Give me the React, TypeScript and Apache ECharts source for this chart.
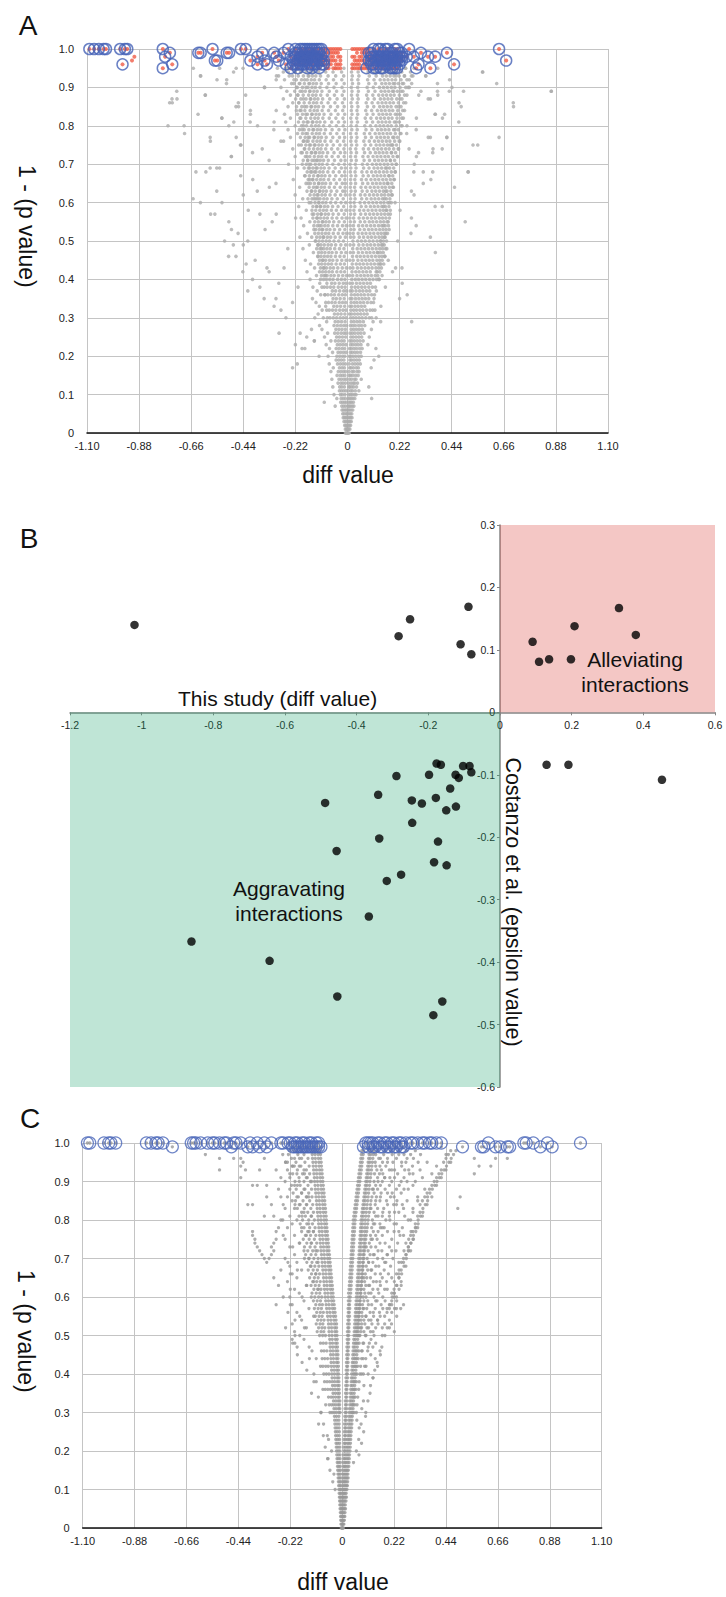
import React, { useEffect, useRef } from "react";
import * as echarts from "echarts";

const FONT = "'Liberation Sans', Arial, Helvetica, sans-serif";

// ---------- tick labels ----------
const xTicksAC = ["-1.10", "-0.88", "-0.66", "-0.44", "-0.22", "0", "0.22", "0.44", "0.66", "0.88", "1.10"];
const yTicksAC = ["0", "0.1", "0.2", "0.3", "0.4", "0.5", "0.6", "0.7", "0.8", "0.9", "1.0"];
const xTicksB = ["-1.2", "-1", "-0.8", "-0.6", "-0.4", "-0.2", "0", "0.2", "0.4", "0.6"];
const yTicksB = ["-0.6", "-0.5", "-0.4", "-0.3", "-0.2", "-0.1", "0", "0.1", "0.2", "0.3"];

// ---------- Panel A ----------
// rows: [ (1-p) in hundredths, diff in thousandths, ... ]
const grayRowsA = [
  [0, -6, -2, 3, 7, -9, 1], [1, -9, -4, 1, 5, 10, -1], [2, -12, -7, -2, 3, 8, 13], [3, -15, -9, -4, 2, 6, 11, 16],
  [4, -13, -8, -3, 4, 9, 14, 19, -18], [5, -20, -14, -6, -1, 5, 12, 18], [6, -17, -10, -4, 3, 8, 15, 22, -23],
  [7, -24, -16, -8, 2, 7, 13, 20, 27, -52], [8, -21, -13, -6, 4, 11, 17, 25, -29, -98], [9, -27, -18, -9, 3, 9, 16, 23, 31, 102, -45],
  [10, -30, -22, -11, 5, 12, 19, 28, 36, -57], [11, -25, -16, -7, 4, 14, 21, 33, -34, 48], [12, -33, -24, -13, 6, 10, 18, 26, 38, -62],
  [13, -28, -19, -9, 5, 15, 24, 31, 42, -40], [14, -36, -26, -15, -6, 8, 17, 29, 36, -66, 58], [15, -31, -21, -11, 7, 13, 22, 34, 45, -44],
  [16, -39, -28, -17, -8, 6, 19, 27, 40, 49, -70], [17, -34, -23, -13, 9, 15, 25, 37, 46, -232, -60], [18, -42, -30, -19, -9, 7, 21, 32, 43, 54, -212, -77],
  [19, -37, -26, -15, 10, 17, 28, 39, 50, -48, 112], [20, -45, -33, -21, -11, 8, 14, 24, 35, 47, 58, -82, 132], [21, -40, -29, -17, -6, 12, 20, 31, 42, 55, -63],
  [22, -48, -36, -23, -12, 9, 16, 27, 38, 51, 62, -192, -76], [23, -43, -31, -19, -7, 13, 22, 34, 45, 57, -90, 86],
  [24, -51, -38, -25, -14, 10, 18, 29, 41, 53, 66, -70, -140], [25, -46, -34, -21, -8, 14, 24, 36, 48, 60, -172, -97, 92],
  [26, -54, -41, -27, -15, -6, 11, 20, 31, 44, 56, 70, -289, -84], [27, -49, -36, -23, -9, 15, 26, 38, 50, 63, -152, -108, 101],
  [28, -57, -43, -29, -16, -5, 12, 22, 33, 47, 59, 73, -118], [29, -52, -39, -25, -10, 16, 28, 41, 53, 67, 271, -88, 108],
  [30, -60, -46, -31, -18, -6, 13, 24, 36, 49, 62, 77, -138, -102, 121], [31, -55, -41, -27, -11, 9, 17, 30, 43, 56, 70, 83, -124],
  [32, -63, -49, -33, -19, -7, 14, 26, 38, 52, 65, 80, -281, -107, 116], [33, -58, -44, -29, -12, 10, 18, 32, 45, 59, 73, -119, 141, -92],
  [34, -66, -52, -35, -21, -8, 15, 28, 40, 54, 68, 84, -232, -133], [35, -61, -47, -31, -14, 11, 19, 34, 48, 62, 76, 90, -352, -302, -148, 112],
  [36, -69, -55, -37, -22, -9, 16, 30, 43, 57, 71, 87, -113, 252, -96], [37, -64, -50, -33, -16, -5, 12, 20, 36, 51, 65, 80, 94, -421, -128, 122],
  [38, -72, -58, -39, -24, -10, 17, 32, 45, 60, 74, 90, -209, -146, -108], [39, -67, -53, -35, -18, -6, 10, 21, 38, 53, 68, 83, 97, -117, 231, -87],
  [40, -75, -61, -42, -26, -11, 18, 33, 47, 62, 77, 93, 108, -401, -158, 133], [41, -70, -56, -38, -20, -4, 9, 22, 40, 56, 71, 86, 101, -131, 146, -93],
  [42, -78, -64, -45, -28, -12, 19, 35, 49, 65, 80, 96, -442, -331, -171, 121], [43, -73, -59, -41, -22, -5, 11, 23, 42, 58, 74, 89, 104, -268, 203, -139, -99],
  [44, -81, -67, -48, -30, -13, 20, 37, 52, 67, 83, 99, 114, -428, -156, 137], [45, -76, -62, -44, -24, -6, 10, 24, 44, 61, 77, 92, 107, 172, -178, -104],
  [46, -84, -70, -51, -32, -14, 21, 39, 54, 70, 86, 102, 118, -471, -502, -124, 158], [47, -79, -65, -47, -26, -7, 12, 25, 46, 63, 80, 95, 111, 371, -144, 127],
  [48, -87, -73, -54, -34, -15, 22, 41, 57, 73, 89, 105, 121, -252, -188, -110, 166], [49, -82, -68, -50, -28, -8, 11, 26, 48, 66, 83, 98, 114, -482, -123, 148, -161],
  [50, -90, -76, -57, -37, -17, 23, 43, 59, 75, 92, 108, 125, -519, -421, 212, -136, 141], [51, -85, -71, -52, -31, -9, 13, 27, 50, 68, 86, 101, 117, -201, -151, 156, -102],
  [52, -93, -79, -60, -39, -19, -4, 10, 24, 45, 62, 78, 95, 111, 128, -462, 268, -169, 162], [53, -88, -74, -55, -33, -11, 14, 28, 52, 71, 89, 104, 120, -348, -142, 176, -107],
  [54, -96, -82, -62, -42, -21, -5, 11, 25, 47, 64, 81, 98, 114, 131, 152, -185, -118], [55, -91, -77, -58, -36, -13, 12, 29, 54, 73, 92, 107, 123, -501, -318, 497, -159, 172, -104],
  [56, -99, -85, -65, -45, -23, -6, 10, 26, 49, 67, 84, 101, 117, 134, -219, -127, -196], [57, -94, -80, -61, -38, -14, 13, 30, 56, 76, 94, 110, 126, -578, -301, -149, 181, -112],
  [58, -102, -88, -68, -47, -25, -7, 11, 27, 51, 69, 87, 104, 120, 137, 222, -419, -174, 163], [59, -97, -83, -63, -40, -16, 14, 31, 58, 78, 97, 113, 129, -131, -206, 152, -115],
  [60, -105, -91, -71, -50, -27, -8, 12, 28, 53, 72, 90, 107, 123, 140, 201, -621, -162, 177, -121], [61, -100, -86, -66, -43, -18, 13, 32, 60, 81, 100, 116, 132, -652, -141, -189, 156, -125],
  [62, -108, -94, -74, -52, -29, -9, 11, 29, 55, 74, 93, 110, 126, 143, 281, -221, -128, 186], [63, -103, -89, -69, -45, -20, -10, 15, 33, 62, 83, 103, 119, 135, -552, -381, -151, 161, -117],
  [64, -111, -97, -77, -55, -31, -10, 12, 30, 57, 77, 96, 113, 129, 146, 452, -202, -132, 191], [65, -106, -92, -72, -47, -22, -9, 14, 34, 64, 86, 106, 122, 138, -302, -166, 169, -121],
  [66, -114, -100, -80, -57, -33, -11, 13, 31, 59, 79, 99, 116, 132, 149, 352, -229, -146, 196, -160], [67, -109, -95, -75, -50, -24, -10, 15, 35, 66, 88, 109, 125, 141, -451, -181, 176, -124],
  [68, -117, -103, -83, -60, -35, -12, 12, 32, 61, 82, 102, 119, 135, 152, 509, -598, -156, 201, -139], [69, -112, -98, -78, -52, -26, -9, 14, 36, 68, 91, 112, 128, 144, -552, -211, 166, -133, -160],
  [70, -120, -106, -86, -62, -37, -13, 11, 33, 63, 84, 105, 122, 138, 155, 282, -249, -191, 206, -162], [71, -115, -101, -81, -55, -28, -10, 16, 37, 70, 93, 115, 131, 147, -331, -141, 181, -127, -168],
  [72, -123, -109, -89, -65, -39, -14, 13, 34, 65, 87, 108, 125, 141, 158, 291, -491, -221, 211, -171], [73, -118, -104, -84, -57, -30, -11, 15, 38, 72, 96, 118, 134, 150, -401, -151, 186, -196, -136],
  [74, -126, -112, -92, -67, -41, -15, 12, 35, 67, 89, 111, 128, 144, 161, 361, -181, 216, -231], [75, -121, -107, -87, -60, -32, -10, 17, 39, 74, 98, 121, 137, 153, -452, -161, 191, -206, 181, -140],
  [76, -129, -115, -95, -70, -43, -16, 14, 36, 69, 92, 114, 131, 147, 164, -579, -281, -186, 221, -172], [77, -124, -110, -90, -62, -34, -12, 16, 40, 76, 101, 124, 140, 156, 341, 419, -241, -166, 196, -141],
  [78, -132, -118, -98, -72, -45, -17, 13, 37, 71, 94, 117, 134, 150, 167, -688, -211, 226, -176], [79, -127, -113, -93, -65, -36, -11, 18, 41, 78, 103, 127, 143, 159, -311, -191, 201, -251, -146],
  [80, -135, -121, -101, -75, -47, -18, 15, 38, 73, 97, 120, 137, 153, 170, -758, -501, 251, -221, 231, -186], [81, -130, -116, -96, -67, -38, -13, 17, 42, 80, 106, 130, 146, 162, -411, -171, 206, -261, -149],
  [82, -138, -124, -104, -77, -49, -19, 14, 39, 75, 99, 123, 140, 156, 173, -531, 401, 291, -201, 236, -241], [83, -133, -119, -99, -70, -40, -12, 19, 43, 82, 108, 133, 149, 165, -631, 371, -176, 211, -266, -151],
  [84, -141, -127, -107, -80, -51, -20, 16, 40, 77, 102, 126, 143, 159, 176, -301, -216, 241, -196], [85, -136, -122, -102, -72, -42, -14, 18, 44, 84, 111, 136, 152, 168, -471, 701, -251, 216, -181, -154],
  [86, -144, -130, -110, -82, -53, -21, 15, 41, 79, 104, 129, 146, 162, 179, -751, -461, 471, -231, 246, -206], [87, -139, -125, -105, -75, -44, -13, 20, 45, 86, 113, 139, 155, 171, -741, 341, -271, 221, -186, -157],
  [88, -147, -133, -113, -85, -55, -22, 17, 42, 81, 107, 132, 149, 165, 182, -601, 301, 381, -211, 251, -241], [89, -142, -128, -108, -77, -46, -15, 19, 46, 88, 116, 142, 158, 174, -721, 861, -256, 226, -191, -160, 195],
  [90, -150, -136, -116, -87, -57, -23, 16, 43, 83, 109, 135, 152, 168, 185, -351, 261, 441, -216, 256, -281, -175], [91, -145, -131, -111, -80, -48, -14, 21, 47, 90, 118, 145, 161, 177, -511, -236, 231, -201, 271, -163, 200],
  [92, -153, -139, -119, -90, -59, -24, 18, 44, 85, 112, 138, 155, 171, 188, -551, -301, 431, -266, 261, -226, -181], [93, -148, -134, -114, -82, -50, -16, 20, 48, 92, 121, 148, 164, 180, -621, 331, -246, 241, -291, 276, -166, 205],
  [94, -156, -142, -122, -92, -61, -25, 17, 45, 87, 114, 141, 158, 174, 191, -481, 571, -221, 266, -271, -196], [95, -151, -137, -117, -85, -52, -15, 22, 49, 94, 123, 151, 167, 183, -651, -441, 381, -251, 281, -296, 246, -171, 210],
];
// outer belt of the dense core (same units)
const edgeRowsA = [
  [95, -168, -189, -212, -236, 198, 221, 244, -262], [94, -175, -198, -221, 205, 229, -250], [93, -163, -186, -208, -232, 196, 218, 240],
  [92, -170, -194, -216, 203, 226, 251], [91, -160, -182, -204, -226, 193, 215, 237], [90, -167, -190, -212, 200, 222, 246],
  [89, -158, -178, -200, -223, 190, 211, 234], [88, -164, -187, -209, 197, 219, 241], [87, -155, -175, -197, -219, 187, 208, 230],
  [86, -161, -183, -205, 194, 215, 237], [85, -152, -172, -193, -215, 184, 205, 226], [84, -158, -180, -201, 191, 212, 233],
  [83, -149, -169, -190, -211, 181, 202, 223], [82, -155, -176, -197, 188, 209, 229], [81, -146, -166, -186, -207, 178, 198, 219],
  [80, -152, -173, -194, 185, 206, 226], [79, -143, -163, -183, -203, 175, 195, 215], [78, -149, -169, -190, 182, 202, 222],
  [77, -140, -160, -179, -199, 172, 191, 211], [76, -146, -166, -186, 179, 199, 218], [75, -137, -156, -176, -195, 169, 188, 207],
  [74, -143, -162, -182, 176, 195, 214], [73, -134, -153, -172, -191, 166, 185, 203], [72, -140, -159, -178, 173, 192, 210],
  [71, -131, -150, -168, -187, 163, 181, 199], [70, -136, -155, -174, 170, 188, 206], [69, -128, -146, -165, -183, 160, 178, 195],
  [68, -133, -151, -170, 167, 185, 202], [67, -125, -143, -161, -179, 157, 174, 191], [66, -130, -148, -166, 164, 181, 198],
  [65, -122, -140, -157, -175, 154, 171, 187], [64, -127, -144, -162, 160, 177, 194], [63, -119, -136, -153, -171, 151, 167, 183],
  [62, -124, -141, -158, 157, 173, 189], [61, -116, -133, -150, -167, 148, 164, 179], [60, -121, -137, -154, 154, 170, 185],
  [59, -113, -129, -146, 145, 160, 175], [58, -117, -134, -150, 151, 166, 181], [57, -110, -126, -142, 142, 157, 171],
  [56, -114, -130, -146, 148, 162, 177], [55, -107, -123, -138, 139, 153, 167], [54, -111, -127, -142, 145, 159, 173],
  [53, -104, -119, -134, 136, 150, 163], [52, -108, -123, -138, 142, 155, 169], [51, -101, -116, -130, 133, 146, 159],
  [50, -105, -120, -134, 139, 152, 165], [49, -98, -112, -126, 130, 143, 155], [48, -101, -116, -130, 136, 148, 161],
  [47, -95, -109, -122, 127, 139, 151], [46, -98, -112, -126, 133, 145, 157], [45, -92, -105, -118, 124, 136, 147],
  [44, -95, -109, -122, 129, 141, 153], [43, -89, -102, -114, 120, 132, 143], [42, -92, -105, -118, 126, 137],
  [41, -86, -98, -110, 117, 128], [40, -89, -101, -114, 123, 134], [38, -86, -98, 105, 118], [36, -83, -95, 102, 114],
  [34, -80, -92, 99, 110], [32, -77, -88, 95, 106], [30, -74, -85, 92, 102],
];
// pairs in hundredths: diff, (1-p)
const grayOutA = [
  -64, 68, -58, 69, -54, 69, -58, 77, -69, 80, -47, 77, -49, 72, -45, 75, -74, 86, -72, 87, -60, 88, -53, 82, -48, 81, -41, 83, -31, 81,
  -27, 76, -62, 93, -54, 95, -47, 95, -51, 92, -30, 93, -35, 90, -41, 84, -43, 88, -46, 85, -38, 80, -36, 74, -33, 64, -40, 66, -44, 62,
  -37, 57, -53, 60, -56, 57, -49, 53, -44, 49, -39, 45, -34, 43, -29, 39, -37, 38, -31, 33, -26, 30, -20, 26, -22, 23, -18, 22, -14, 24, -12, 20,
  57, 94, 63, 91, 86, 89, 70, 86, 64, 77, 53, 75, 55, 75, 51, 68, 48, 85, 47, 81, 49, 89, 42, 77, 35, 77, 41, 83, 37, 83, 31, 89, 38, 89,
  43, 89, 35, 87, 33, 93, 27, 93, 38, 91, 29, 79, 25, 78, 26, 74, 30, 73, 36, 73, 40, 74, 28, 68, 32, 68, 36, 68, 32, 65, 27, 63, 37, 59,
  40, 59, 27, 56, 29, 54, 35, 51, 23, 43, 19, 42, 16, 38, 22, 35, 14, 29, 12, 22, 10, 17, 9, 12,
];
const blueA = [
  -109, 100, -107, 100, -105, 100, -103, 100, -102, 100, -96, 100, -94, 100, -93, 100, -95, 96,
  -78, 100, -75, 99, -77, 98, -74, 96, -78, 95,
  -63, 99, -62, 99, -57, 100, -56, 97, -55, 97, -51, 99, -50, 99, -45, 100, -43, 100, -41, 97, -38, 98, -38, 96, -36, 99, -35, 97, -34, 96,
  -31, 99, -30, 98, -29, 97, -27, 99, -26, 96, -25, 100, -24, 98, -23, 96,
  -22, 99, -21, 97, -20, 100, -20, 96, -19, 98, -18, 100, -18, 96, -17, 98, -16, 99, -16, 96, -15, 97, -14, 100, -14, 98, -13, 96, -13, 99,
  -12, 97, -12, 100, -11, 98, -11, 96, -10, 99, -21, 95, -17, 95, -15, 100, -19, 96, -22, 96, -17, 100, -15, 95, -13, 100, -11, 100, -20, 98,
  -24, 95, -19, 100, -16, 98, -14, 96, -12, 95, -18, 97, -22, 98,
  -23, 97, -22, 100, -21, 99, -20, 97, -19, 99, -18, 98, -17, 97, -16, 100, -15, 98, -14, 97, -13, 98, -12, 99, -11, 97, -10, 97, -10, 96,
  -21, 96, -19, 97, -17, 99, -15, 96, -13, 97,
  9, 99, 10, 97, 11, 100, 11, 96, 12, 98, 13, 100, 13, 96, 14, 98, 15, 99, 15, 96, 16, 97, 17, 100, 17, 98, 18, 96, 19, 99, 19, 97, 20, 100,
  20, 96, 21, 98, 22, 99, 22, 96, 23, 97, 12, 95, 18, 95, 14, 95, 16, 100, 10, 99, 21, 95, 23, 99, 15, 98, 13, 98, 17, 96, 19, 95, 21, 100,
  9, 97, 10, 98, 11, 98, 12, 97, 13, 97, 14, 100, 14, 97, 15, 97, 16, 98, 16, 96, 17, 97, 18, 99, 18, 98, 19, 98, 20, 98, 20, 97, 21, 97,
  22, 98, 22, 97, 23, 98, 11, 95, 15, 95, 20, 95, 10, 96,
  8, 95, 25, 98, 26, 100, 28, 98, 29, 95, 30, 96, 31, 99, 34, 98, 35, 95, 37, 98, 42, 99, 45, 96, 64, 100, 67, 97,
];
const redOnlyA = [
  -10, 100, -9, 98, -8, 99, -7, 100, -6, 97, -5, 99, -4, 98, -3, 100, -10, 96, -9, 95, -8, 97, -7, 96, -6, 100, -5, 95, -4, 96, -3, 97,
  -9, 100, -8, 96, -7, 98, -6, 95, -5, 97, -4, 100, -3, 95, -10, 98, -8, 95, -7, 99, -6, 98, -5, 100, -4, 95, -3, 98, -9, 97, -5, 96,
  -4, 99, -8, 100, -3, 96, -10, 97, -6, 99, -9, 99, -7, 97,
  2, 100, 3, 98, 4, 99, 5, 100, 6, 97, 7, 99, 8, 98, 9, 100, 2, 96, 3, 95, 4, 97, 5, 96, 6, 100, 7, 95, 8, 96, 9, 97, 2, 98, 3, 100,
  4, 95, 5, 98, 6, 95, 7, 97, 8, 100, 9, 95, 3, 97, 4, 100, 5, 95, 6, 99, 7, 100, 8, 99, 2, 95, 3, 96, 6, 98, 9, 98, 4, 96, 5, 97, 7, 96,
  -90, 98, -91, 97,
];

// ---------- Panel B ----------
const diffB = [
  -1.02, -0.283, -0.251, -0.088, -0.11, -0.08, 0.091, 0.109, 0.137, 0.198, 0.208, 0.332, 0.379,
  0.13, 0.191, 0.452,
  -0.177, -0.165, -0.103, -0.085, -0.08, -0.124, -0.115, -0.198, -0.289, -0.139, -0.34, -0.246, -0.218, -0.179, -0.15, -0.123,
  -0.488, -0.245, -0.337, -0.173, -0.456, -0.184, -0.149, -0.276, -0.316, -0.366, -0.861, -0.643, -0.454, -0.161, -0.186,
];
const epsilonB = [
  0.14, 0.122, 0.149, 0.169, 0.109, 0.093, 0.113, 0.081, 0.085, 0.085, 0.138, 0.167, 0.124,
  -0.084, -0.084, -0.108,
  -0.082, -0.084, -0.086, -0.086, -0.096, -0.1, -0.105, -0.1, -0.102, -0.122, -0.132, -0.141, -0.146, -0.137, -0.157, -0.151,
  -0.145, -0.177, -0.202, -0.207, -0.222, -0.24, -0.245, -0.26, -0.27, -0.327, -0.367, -0.398, -0.455, -0.463, -0.485,
];

// ---------- Panel C ----------
// rows: [ (1-p) in hundredths, diff in thousandths, ... ]
const grayRowsC = [
  [0, -4, -1, 2, 5], [1, -5, -2, 1, 4, 7], [2, -6, -3, 2, 6, 9], [3, -7, -3, 1, 4, 8, 11], [4, -8, -4, -1, 3, 7, 12],
  [5, -9, -5, -2, 2, 6, 10, 14], [6, -10, -6, -2, 4, 8, 13], [7, -11, -7, -3, 3, 7, 11, 16], [8, -12, -8, -4, 2, 5, 9, 14, 18],
  [9, -13, -8, -4, 4, 8, 12, 17], [10, -14, -9, -5, 3, 7, 11, 15, 20, -30], [11, -15, -10, -5, 4, 9, 14, 19, 22], [12, -16, -11, -6, 3, 8, 12, 17, 23, -40],
  [13, -17, -12, -6, 5, 10, 15, 20, 25], [14, -18, -13, -7, 4, 9, 14, 19, 24, -35], [15, -19, -13, -7, 5, 11, 16, 21, 26, -52],
  [16, -20, -14, -8, 6, 10, 15, 22, 28], [17, -21, -15, -8, 5, 12, 17, 23, 29, 48], [18, -22, -16, -9, 7, 11, 18, 24, 30, -62],
  [19, -23, -16, -9, 6, 13, 19, 25, 31, 71], [20, -24, -17, -10, 8, 12, 20, 26, 33, -45], [21, -25, -18, -10, 7, 14, 21, 27, 34, -72],
  [22, -26, -19, -11, 9, 13, 22, 28, 35, 82], [23, -27, -19, -11, 8, 15, 23, 29, 36, -58], [24, -28, -20, -12, 10, 14, 24, 30, 37, -63],
  [25, -29, -21, -12, 9, 16, 25, 31, 38, 91], [26, -30, -22, -13, 11, 15, 26, 33, 40, 72], [27, -31, -22, -13, 10, 17, 27, 34, 41, -79],
  [28, -32, -23, -14, 12, 16, 28, 35, 42, 62], [29, -33, -24, -14, 11, 18, 29, 36, 43, 99], [30, -34, -25, -15, -9, 13, 17, 30, 37, 45, -90],
  [31, -35, -26, -16, -10, 12, 19, 31, 38, 46, 83], [32, -36, -27, -17, -11, 14, 18, 32, 39, 47, -70], [33, -37, -27, -17, -10, 13, 20, 33, 40, 48, 109],
  [34, -38, -28, -18, -12, 15, 19, 34, 41, 50, -101], [35, -39, -29, -19, -12, 14, 21, 35, 42, 51, 118], [36, -40, -30, -20, -13, 16, 20, 36, 43, 52, -82],
  [37, -41, -31, -20, -13, 15, 22, 37, 44, 53, 92], [38, -42, -32, -21, -14, 17, 21, 38, 45, 54, -110], [39, -43, -32, -21, -14, 16, 23, 39, 46, 55, 131],
  [40, -44, -33, -22, -15, 18, 22, 40, 47, 57, -120, 82], [41, -45, -34, -23, -16, 17, 24, 41, 48, 58, 138], [42, -46, -35, -24, -16, 19, 23, 42, 49, 59, -92, 101],
  [43, -47, -36, -24, -17, 18, 25, 43, 50, 60, 148], [44, -48, -37, -25, -18, 20, 24, 44, 51, 61, -139, 89], [45, -49, -38, -26, -18, 19, 26, 45, 52, 62, 121, 162],
  [46, -50, -39, -27, -19, 21, 25, 46, 53, 63, -128, 82], [47, -51, -40, -28, -20, 20, 27, 47, 54, 64, 110, 168, -191], [48, -52, -41, -28, -21, 22, 26, 48, 55, 65, 91, 142, -201],
  [49, -53, -42, -29, -21, 21, 28, 49, 56, 66, 122, -162, -212], [50, -55, -43, -30, -22, 23, 27, 50, 57, 67, 72, 101, 181, -180],
  [51, -56, -44, -31, -23, 22, 29, 51, 58, 68, 131, -202, 221], [52, -57, -45, -32, -24, 24, 28, 52, 59, 69, 82, 112, 191, -152],
  [53, -58, -46, -33, -24, 23, 30, 53, 60, 70, 152, -212, 209], [54, -60, -48, -35, -26, 25, 29, 54, 61, 71, 92, 122, 200, -172],
  [55, -62, -50, -37, -28, 24, 31, 55, 62, 72, 101, 161, 231, -121], [56, -64, -52, -39, -30, 26, 30, 56, 63, 73, 132, 210, -192],
  [57, -66, -54, -41, -32, 25, 32, 57, 64, 74, 91, 172, 222, -141, 248], [58, -68, -56, -43, -34, 27, 31, 58, 65, 75, 111, 202, -212],
  [59, -70, -58, -45, -36, 26, 33, 59, 66, 76, 142, 182, -162, 231], [60, -72, -60, -47, -38, 28, 34, 60, 67, 78, 101, 212, -131, -222],
  [61, -73, -61, -48, -39, 27, 36, 61, 68, 79, 122, 221, -182], [62, -75, -63, -50, -41, 29, 37, 62, 69, 80, 151, 191, -101, -202, 241],
  [63, -76, -64, -51, -42, 30, 38, 63, 70, 81, 112, 232, -152], [64, -78, -66, -53, -44, 31, 39, 64, 71, 82, 132, 221, -232, -121],
  [65, -79, -67, -54, -45, 32, 40, 65, 72, 83, 92, 241, -192], [66, -81, -69, -56, -47, 33, 41, 66, 73, 84, 162, 252, -112, -212],
  [67, -82, -70, -57, -48, 34, 42, 67, 74, 85, 122, 241, -172], [68, -84, -72, -59, -50, 35, 43, 68, 75, 86, 142, 262, -222, -132],
  [69, -85, -73, -60, -51, 36, 44, 69, 76, 87, 112, 251, -102, -192], [70, -87, -75, -62, -53, 37, 45, 70, 77, 88, 172, 272, -142, -242],
  [71, -88, -76, -63, -54, 38, 46, 71, 78, 89, 132, 271, -202], [72, -90, -78, -65, -56, 39, 47, 72, 79, 90, 152, 262, 282, -162, -112],
  [73, -91, -79, -66, -57, 40, 48, 73, 80, 91, 102, 281, -222], [74, -93, -81, -68, -59, 41, 49, 74, 81, 92, 182, 292, -132, -182],
  [75, -94, -82, -69, -60, 42, 50, 75, 82, 93, 122, 282, 302, -242], [76, -96, -84, -71, -62, 43, 51, 76, 83, 94, 142, 302, -152, -202],
  [77, -97, -85, -72, -63, 44, 52, 77, 84, 95, 192, 292, 312, -122], [78, -99, -87, -74, -65, 45, 53, 78, 85, 96, 162, 312, -172, -232],
  [79, -100, -88, -75, -66, 46, 54, 79, 86, 97, 132, 322, -212, -142], [80, -102, -90, -77, -67, 47, 55, 80, 87, 98, 202, 322, -192, -252],
  [81, -103, -91, -78, -68, 49, 57, 82, 89, 100, 152, 332, -132, -222], [82, -105, -93, -80, -70, 51, 59, 84, 91, 102, 172, 222, 342, -162],
  [83, -106, -94, -81, -71, 53, 61, 86, 93, 104, 122, 342, -202, -242], [84, -108, -96, -83, -73, 55, 63, 88, 95, 106, 192, 352, -152, -182],
  [85, -109, -97, -84, -74, 57, 65, 90, 97, 108, 142, 232, 362, -212], [86, -111, -99, -86, -76, 59, 67, 92, 99, 110, 162, 362, -142, -232, -192],
  [87, -112, -100, -87, -77, 61, 69, 94, 101, 112, 212, 372, -172], [88, -114, -102, -89, -79, 63, 71, 96, 103, 114, 132, 182, 382, -222, -162],
  [89, -115, -103, -90, -80, 65, 73, 98, 105, 116, 242, 392, -202], [90, -117, -105, -92, -82, 67, 75, 100, 107, 118, 152, 402, -182, -242],
  [91, -118, -106, -93, -83, 69, 77, 102, 109, 120, 202, 262, 412, -152], [92, -120, -108, -95, -85, 71, 79, 104, 111, 122, 172, 422, -222, -192],
  [93, -121, -109, -96, -86, 73, 81, 106, 113, 124, 222, 282, 432, -162], [94, -123, -111, -98, -88, 75, 83, 108, 115, 126, 142, 442, -212, -182],
  [95, -124, -112, -99, -89, 77, 85, 110, 117, 128, 192, 252, 452, -232], [96, -126, -114, -101, -91, 79, 87, 112, 119, 130, 162, 302, 462, -172, -202],
  [97, -127, -115, -102, -92, 81, 89, 114, 121, 132, 212, 332, 472, -252], [98, -129, -117, -104, -94, 83, 91, 116, 123, 134, 182, 272, 482, -192, -222],
];
// scatter beside the two arms (same units)
const scatterRowsC = [
  [98, -150, -172, -205, 150, 205, 240, 310], [97, -162, -188, -228, 142, 176, 262, 290], [96, -145, -181, -215, 155, 192, 230, 275],
  [95, -158, -196, -240, 140, 171, 215, 322], [94, -140, -175, -203, 160, 185, 252, 298], [93, -152, -190, -232, 147, 166, 200, 265],
  [92, -138, -168, -210, 137, 158, 235, 285], [91, -148, -183, -222, 150, 180, 222, 340], [90, -135, -162, -200, 135, 170, 210, 275],
  [89, -145, -178, -215, 142, 162, 200, 300], [88, -130, -158, -195, 128, 150, 230, 262], [87, -142, -172, -208, 135, 165, 192, 250],
  [86, -128, -152, -186, 126, 145, 205, 320], [85, -138, -166, -198, 122, 160, 188, 275], [84, -125, -150, -178, 120, 140, 218, 255],
  [83, -133, -161, -190, 118, 150, 176, 300], [82, -122, -146, -172, 115, 135, 200, 240], [81, -130, -156, -183, 112, 142, 170, 265],
  [80, -118, -142, -168, 110, 128, 185, 280], [79, -126, -150, -178, 108, 138, 160, 230], [78, -115, -138, -162, 106, 125, 178, 255],
  [77, -122, -146, -172, 104, 132, 152, 220], [76, -112, -134, -156, 102, 120, 170, 245], [75, -118, -140, -165, 100, 128, 148, 210],
  [74, -108, -130, -150, 98, 115, 160, 235], [73, -115, -136, -160, 96, 122, 142, 200], [72, -105, -125, -146, 95, 110, 168, 228],
  [71, -112, -132, -155, 93, 118, 136, 192], [70, -102, -120, -140, 92, 106, 150, 215], [69, -108, -128, -150, 90, 112, 130, 185],
  [68, -99, -116, -135, 89, 102, 155, 205], [67, -105, -123, -144, 87, 108, 125, 178], [66, -96, -112, -130, 86, 98, 140, 196],
  [65, -102, -118, -138, 84, 104, 120, 170], [64, -93, -108, -125, 83, 95, 145, 188], [63, -98, -114, -132, 81, 100, 116, 162],
  [62, -90, -104, -120, 80, 92, 130, 180], [61, -95, -110, -128, 78, 96, 112, 155], [60, -87, -100, -116, 77, 89, 135, 172],
  [59, -92, -106, -122, 75, 92, 108, 148], [58, -84, -96, -112, 74, 86, 125, 165], [57, -88, -102, -118, 72, 88, 104, 140],
  [56, -80, -93, -108, 71, 83, 118, 158], [55, -85, -98, -114, 69, 85, 100, 133], [54, -77, -90, -104, 68, 80, 112, 150],
  [53, -82, -94, -110, 66, 82, 96, 126], [52, -74, -86, -100, 65, 78, 105, 142], [51, -78, -90, -106, 63, 79, 92, 120],
  [50, -71, -83, -96, 62, 75, 98, 135], [48, -68, -80, -92, 60, 72, 88, 115], [46, -65, -77, -88, 58, 70, 85, 108],
  [44, -62, -74, -85, 56, 68, 82, 100], [42, -59, -70, -82, 54, 65, 78, 95], [40, -56, -67, -78, 52, 62, 75, 90],
  [38, -53, -64, -75, 50, 60, 72], [36, -50, -61, -72, 48, 58, 70], [34, -47, -58, 46, 55, 66], [32, -45, -55, 44, 53, 63], [30, -43, -52, 42, 50, 60],
];
// pairs in hundredths: diff, (1-p)
const grayOutC = [
  -58, 97, -52, 96, -52, 93, -43, 96, -43, 94, -43, 91, -42, 95, -41, 93, -38, 89, -36, 89, -32, 89, -40, 84, -38, 84, -33, 81, -32, 86,
  -30, 84, -26, 86, -29, 81, -27, 88, -25, 84, -28, 93, -24, 95, -26, 91, -35, 93, -46, 96, -33, 96,
  -38, 77, -38, 76, -37, 74, -36, 73, -35, 72, -34, 71, -33, 70, -32, 69, -31, 70, -30, 71, -30, 73, -29, 74, -28, 75, -28, 77, -27, 78, -37, 75, -29, 72,
  -29, 65, -27, 63, -25, 60, -28, 58, -23, 56, -24, 52, -20, 50, -21, 48, -19, 45, -17, 43, -15, 41, -12, 38, -13, 35, -9, 30, -10, 27, -8, 24,
  -6, 18, -22, 62, -26, 67, -23, 69, -21, 73, -25, 76, -26, 80, -22, 66, -18, 55, -16, 52, -14, 47, -11, 44, -22, 58, -20, 54, -17, 60, -15, 63,
  -19, 67, -16, 70, -18, 74, -14, 77, -17, 81, -20, 84, -15, 86, -19, 89, -16, 92, -21, 94, -13, 90,
  50, 86, 49, 83, 56, 96, 65, 96, 70, 96, 63, 94, 58, 94, 56, 92, 24, 97, 27, 95, 21, 93, 30, 92, 25, 90, 18, 91, 28, 88, 22, 86, 32, 85,
  26, 83, 20, 81, 29, 80, 17, 78, 24, 77, 27, 74, 21, 72, 18, 69, 23, 66, 16, 64, 21, 61, 19, 57, 15, 54, 17, 50, 13, 47, 14, 44, 11, 40,
  12, 37, 9, 33, 10, 30, 8, 27, 7, 23, 6, 20, 44, 97, 42, 99, 36, 95, 33, 93, 40, 94, 31, 90, 38, 92, 23, 84, 30, 82, 35, 88, 22, 79, 26, 76,
  19, 71, 24, 69, 21, 65, 25, 63, 22, 60, 20, 58, 23, 57, 26, 58, 18, 53, 20, 52, 16, 46, 15, 42, 13, 39,
];
const bandC = [
  19, 56, 20, 57, 21, 59, 22, 61, 22, 62, 23, 63, 24, 65, 24, 66, 25, 67, 26, 69, 26, 70, 27, 71, 28, 72, 28, 73, 29, 74, 29, 76, 30, 77,
  31, 78, 31, 79, 32, 81, 33, 82, 33, 84, 34, 85, 35, 86, 36, 87, 37, 88, 38, 89, 39, 90, 40, 91, 41, 92, 42, 93, 43, 95, 44, 96, 45, 97,
  46, 98, 21, 58, 23, 60, 25, 64, 27, 68, 29, 72, 30, 75, 32, 78, 34, 81, 36, 84, 38, 86, 40, 89, 42, 91, 44, 93, 46, 95, 18, 55, 17, 52,
];
const blueC = [
  -108, 100, -107, 100, -101, 100, -99, 100, -98, 100, -96, 100, -83, 100, -81, 100, -79, 100, -78, 100, -76, 100, -72, 99,
  -64, 100, -63, 100, -62, 100, -60, 100, -57, 100, -55, 100, -54, 100, -52, 100, -50, 100, -49, 100, -47, 99, -46, 100, -45, 100,
  -43, 100, -40, 99, -39, 100, -38, 99, -36, 100, -35, 99, -33, 100, -32, 99, -30, 100, -26, 100, -25, 100, -23, 100,
  -22, 100, -21, 99, -20, 100, -19, 100, -18, 99, -17, 100, -16, 100, -15, 99, -14, 100, -13, 100, -12, 99, -11, 100, -10, 100, -9, 99,
  -20, 99, -16, 99, -13, 99, -19, 99, -11, 99, -14, 99, -17, 99, -10, 99,
  9, 99, 10, 100, 11, 99, 12, 100, 13, 100, 14, 99, 15, 100, 16, 100, 17, 99, 18, 100, 19, 100, 20, 99, 21, 100, 22, 100, 23, 99, 24, 100,
  25, 100, 26, 99, 11, 100, 13, 99, 16, 99, 19, 99, 22, 99, 25, 99,
  27, 100, 29, 100, 30, 100, 32, 100, 34, 100, 35, 100, 37, 100, 38, 100, 40, 100, 42, 100, 51, 99, 59, 99, 60, 99, 62, 100, 65, 99,
  67, 99, 70, 99, 71, 99, 77, 100, 78, 100, 81, 100, 84, 99, 87, 100, 89, 99, 101, 100,
];

// ---------- helpers ----------
const fromRows = (r: number[][]) => r.flatMap((row) => row.slice(1).map((x) => [x / 1000, row[0] / 100]));
const fromPairs = (a: number[]) => {
  const out: number[][] = [];
  for (let i = 0; i + 1 < a.length; i += 2) out.push([a[i] / 100, a[i + 1] / 100]);
  return out;
};

// layout (pixels)
const GA = { left: 87, top: 49, width: 521, height: 384 };
const GB = { left: 70, top: 525, width: 645, height: 562 };
const GC = { left: 82.7, top: 1143, width: 519, height: 385 };
const BX = { min: -1.2, max: 0.6 };
const BY = { min: -0.6, max: 0.3 };

const labelAC = { color: "#222", fontSize: 11, fontFamily: FONT };
const splitAC = { show: true, lineStyle: { color: "#c4c4c4", width: 1 } };

function buildOption() {
  const txt = (x: number, y: number, text: string, size: number, extra: any = {}) => ({
    type: "text",
    x,
    y,
    z: 100,
    rotation: extra.rotation || 0,
    style: {
      text,
      fill: "#111",
      fontSize: size,
      fontFamily: FONT,
      align: extra.align || "center",
      textAlign: extra.align || "center",
      verticalAlign: "middle",
      textVerticalAlign: "middle",
      lineHeight: extra.lineHeight || size * 1.2,
    },
  });

  // B axes cross at (0,0)
  const bxOffset = -(GB.height * (0 - BY.min)) / (BY.max - BY.min);
  const byOffset = -(GB.width * (0 - BX.min)) / (BX.max - BX.min);

  return {
    animation: false,
    backgroundColor: "#fff",
    grid: [GA, GB, GC],
    xAxis: [
      {
        type: "value", gridIndex: 0, min: -1.1, max: 1.1, interval: 0.22,
        axisLine: { show: true, onZero: false, lineStyle: { color: "#111", width: 1.5 } },
        axisTick: { show: false },
        axisLabel: { ...labelAC, margin: 7, showMinLabel: true, showMaxLabel: true,
          formatter: (v: number) => xTicksAC[Math.round((v + 1.1) / 0.22)] ?? "" },
        splitLine: splitAC,
      },
      {
        type: "value", gridIndex: 1, min: BX.min, max: BX.max, interval: 0.2, position: "bottom", offset: bxOffset,
        axisLine: { show: true, onZero: false, lineStyle: { color: "#858585", width: 1.5 } },
        axisTick: { show: true, length: 3, lineStyle: { color: "#858585" } },
        axisLabel: { color: "#222", fontSize: 10.5, fontFamily: FONT, margin: 7, showMinLabel: true, showMaxLabel: true,
          formatter: (v: number) => xTicksB[Math.round((v - BX.min) / 0.2)] ?? "" },
        splitLine: { show: false },
      },
      {
        type: "value", gridIndex: 2, min: -1.1, max: 1.1, interval: 0.22,
        axisLine: { show: true, onZero: false, lineStyle: { color: "#111", width: 1.5 } },
        axisTick: { show: false },
        axisLabel: { ...labelAC, margin: 7, showMinLabel: true, showMaxLabel: true,
          formatter: (v: number) => xTicksAC[Math.round((v + 1.1) / 0.22)] ?? "" },
        splitLine: splitAC,
      },
    ],
    yAxis: [
      {
        type: "value", gridIndex: 0, min: 0, max: 1, interval: 0.1,
        axisLine: { show: false }, axisTick: { show: false },
        axisLabel: { ...labelAC, margin: 13, showMinLabel: true, showMaxLabel: true,
          formatter: (v: number) => yTicksAC[Math.round(v / 0.1)] ?? "" },
        splitLine: splitAC,
      },
      {
        type: "value", gridIndex: 1, min: BY.min, max: BY.max, interval: 0.1, position: "left", offset: byOffset,
        axisLine: { show: true, onZero: false, lineStyle: { color: "#858585", width: 1.5 } },
        axisTick: { show: true, length: 3, lineStyle: { color: "#858585" } },
        axisLabel: { color: "#222", fontSize: 10.5, fontFamily: FONT, margin: 5, showMinLabel: true, showMaxLabel: true,
          formatter: (v: number) => yTicksB[Math.round((v - BY.min) / 0.1)] ?? "" },
        splitLine: { show: false },
      },
      {
        type: "value", gridIndex: 2, min: 0, max: 1, interval: 0.1,
        axisLine: { show: false }, axisTick: { show: false },
        axisLabel: { ...labelAC, margin: 13, showMinLabel: true, showMaxLabel: true,
          formatter: (v: number) => yTicksAC[Math.round(v / 0.1)] ?? "" },
        splitLine: splitAC,
      },
    ],
    series: [
      // Panel A
      {
        type: "scatter", xAxisIndex: 0, yAxisIndex: 0, z: 2, silent: true, clip: false, progressive: 0,
        symbol: "circle", symbolSize: 3.6, itemStyle: { color: "#adadad" },
        data: [...fromRows(grayRowsA), ...fromRows(edgeRowsA), ...fromPairs(grayOutA)],
      },
      {
        type: "scatter", xAxisIndex: 0, yAxisIndex: 0, z: 3, silent: true, clip: false, progressive: 0,
        symbol: "circle", symbolSize: 4, itemStyle: { color: "#f05c47" },
        data: [...fromPairs(redOnlyA), ...fromPairs(blueA)],
      },
      {
        type: "scatter", xAxisIndex: 0, yAxisIndex: 0, z: 4, silent: true, clip: false, progressive: 0,
        symbol: "circle", symbolSize: 11,
        itemStyle: { color: "rgba(0,0,0,0)", borderColor: "#4562b7", borderWidth: 1.5 },
        data: fromPairs(blueA),
      },
      // Panel B
      {
        type: "scatter", xAxisIndex: 1, yAxisIndex: 1, z: 2, silent: true, clip: false,
        symbol: "circle", symbolSize: 8.5, itemStyle: { color: "#000" },
        data: diffB.map((x, i) => [x, epsilonB[i]]),
      },
      {
        type: "scatter", xAxisIndex: 1, yAxisIndex: 1, z: 5, silent: true, data: [],
        markArea: {
          silent: true,
          data: [
            [{ xAxis: 0, yAxis: 0, itemStyle: { color: "rgba(214,54,48,0.28)" } }, { xAxis: BX.max, yAxis: BY.max }],
            [{ xAxis: BX.min, yAxis: 0, itemStyle: { color: "rgba(25,160,107,0.28)" } }, { xAxis: 0, yAxis: BY.min }],
          ],
        },
      },
      // Panel C
      {
        type: "scatter", xAxisIndex: 2, yAxisIndex: 2, z: 2, silent: true, clip: false, progressive: 0,
        symbol: "circle", symbolSize: 3.3, itemStyle: { color: "#999999" },
        data: [...fromRows(grayRowsC), ...fromRows(scatterRowsC), ...fromPairs(grayOutC), ...fromPairs(bandC), ...fromPairs(blueC)],
      },
      {
        type: "scatter", xAxisIndex: 2, yAxisIndex: 2, z: 3, silent: true, clip: false, progressive: 0,
        symbol: "circle", symbolSize: 12,
        itemStyle: { color: "rgba(0,0,0,0)", borderColor: "#4a66b9", borderWidth: 1.2 },
        data: fromPairs(blueC),
      },
    ],
    graphic: [
      txt(28, 25, "A", 28),
      txt(29, 538, "B", 28),
      txt(30, 1118, "C", 28),
      txt(27, 165, "1 - (p value)", 23, { rotation: -Math.PI / 2, align: "left" }),
      txt(348, 475, "diff value", 23),
      txt(26, 1270, "1 - (p value)", 23, { rotation: -Math.PI / 2, align: "left" }),
      txt(343, 1582, "diff value", 23),
      txt(178, 698, "This study (diff value)", 21, { align: "left" }),
      txt(513, 902, "Costanzo et al. (epsilon value)", 21.5, { rotation: -Math.PI / 2 }),
      txt(635, 671.5, "Alleviating\ninteractions", 21, { lineHeight: 25 }),
      txt(289, 900.5, "Aggravating\ninteractions", 21, { lineHeight: 25 }),
    ],
  };
}

export default function App() {
  const ref = useRef<HTMLDivElement>(null);
  useEffect(() => {
    document.body.style.margin = "0";
    if (!ref.current) return;
    const chart = echarts.init(ref.current, undefined, { renderer: "svg" });
    chart.setOption(buildOption() as any);
    return () => chart.dispose();
  }, []);
  return <div ref={ref} style={{ width: 726, height: 1597, overflow: "hidden" }} />;
}
